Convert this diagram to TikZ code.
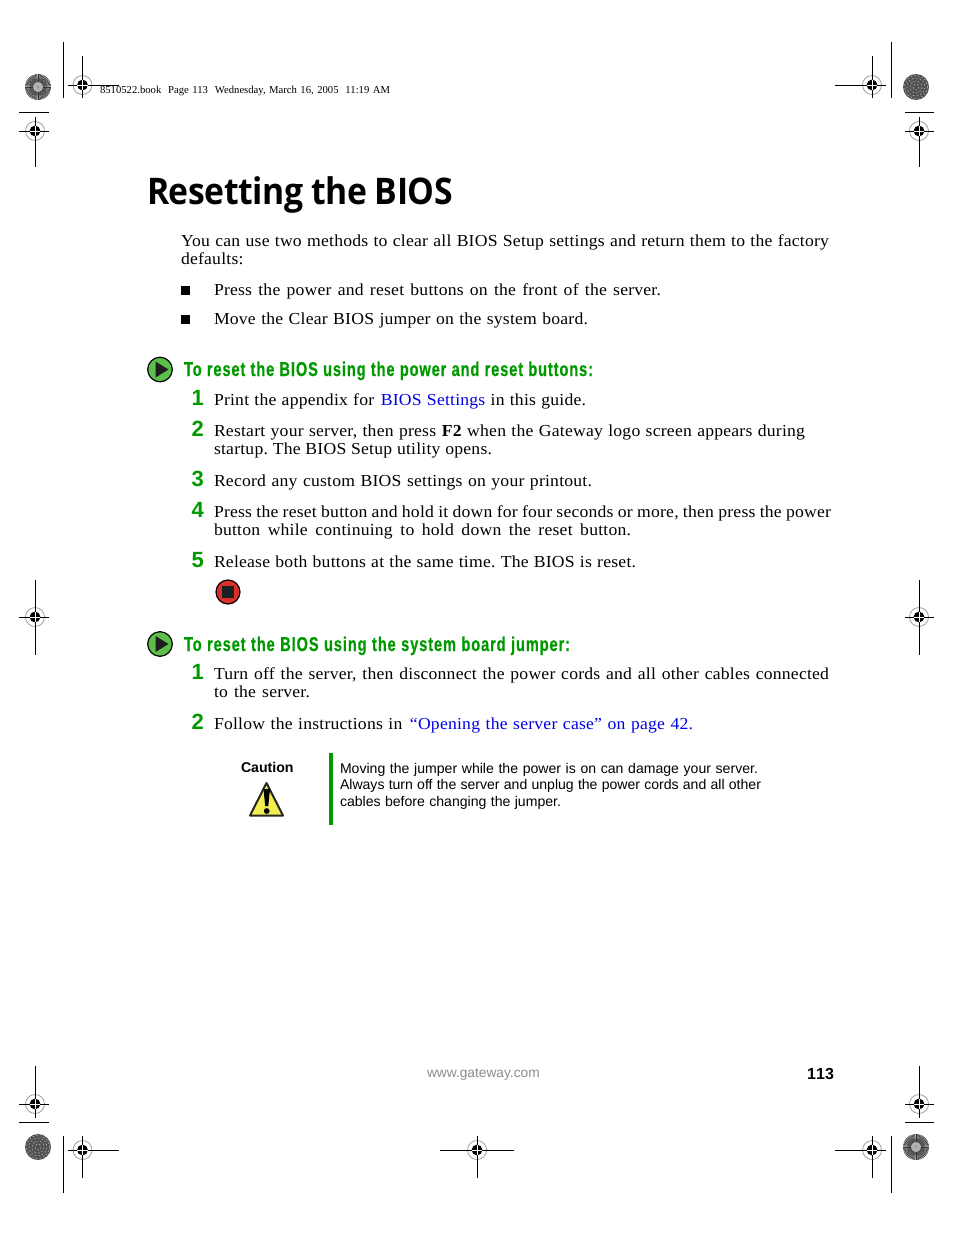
\documentclass[tikz,border=0pt]{standalone}
\usepackage{fontspec}
\setmainfont{Liberation Serif}
\newfontfamily\bodyf[FakeStretch=1.05,LetterSpace=1.3]{Liberation Serif}
\newfontfamily\headf[FakeStretch=0.92,LetterSpace=-1]{Open Sans}
\newfontfamily\subf[FakeStretch=0.73,LetterSpace=4.5,BoldFeatures={FakeBold=0.5}]{Liberation Sans}
\newfontfamily\arial{Liberation Sans}
\definecolor{gwgreen}{HTML}{009A00}
\definecolor{lgreen}{HTML}{5CBF4A}
\definecolor{gwblue}{HTML}{0000E6}
\definecolor{stopred}{HTML}{D8302A}
\definecolor{warny}{HTML}{F2EE4E}
\newlength\pxu \setlength\pxu{0.75pt}
\frenchspacing
\newcommand\lw[2]{\makebox[#1\pxu][s]{#2}}
\newcommand\lk[1]{\textcolor{gwblue}{#1}}
\tikzset{
 x=0.75pt,y=-0.75pt,
 mark line/.style={draw=black,line width=0.75pt},
 txt/.style={anchor=base west,inner sep=0pt,outer sep=0pt},
 body/.style={txt,text=black,font=\bodyf\frenchspacing\fontsize{12.6pt}{14pt}\selectfont},
 subhead/.style={txt,text=gwgreen,font=\subf\bfseries\fontsize{15pt}{17pt}\selectfont},
 num/.style={txt,text=gwgreen,font=\arial\bfseries\fontsize{16.5pt}{18pt}\selectfont},
 note/.style={txt,text=black,font=\arial\frenchspacing\fontsize{10.55pt}{12pt}\selectfont},
}
% centre x,y ; left,right,top,bottom extents
\newcommand\regmark[6]{%
 \draw[gray!75,line width=0.6pt] (#1,#2) circle[radius=9.5];
 \fill[black] (#1,#2) circle[radius=5.4];
 \draw[mark line] (#3,#2) -- (#4,#2) (#1,#5) -- (#1,#6);
 \draw[white,line width=0.5pt] (#1-5.4,#2) -- (#1+5.4,#2) (#1,#2-5.4) -- (#1,#2+5.4);
}
\newcommand\sunburst[2]{%
 \fill[gray!60] (#1,#2) circle[radius=13];
 \foreach \a in {0,6,...,354}{\draw[black!80,line width=0.38pt] (#1,#2) ++(\a:5) -- ++(\a:8);}
 \fill[black!70] (#1,#2) circle[radius=0.7];
}
\newcommand\darkdisc[2]{%
 \fill[black!68] (#1,#2) circle[radius=13];
 \foreach \r/\o in {3/0,6/11,9/5,11.5/17}{\draw[gray!55,line width=0.4pt,dash pattern=on 1.2pt off 1.6pt,dash phase=\o pt] (#1,#2) circle[radius=\r];}
}
\newcommand\playicon[2]{%
 \draw[black,line width=0.9pt,fill=lgreen] (#1,#2) circle[radius=12.3];
 \fill[black!88] (#1-4.5,#2-8) -- (#1+8.5,#2) -- (#1-4.5,#2+8) -- cycle;
}
\begin{document}
\begin{tikzpicture}
\useasboundingbox (0,0) rectangle (954,1235);
\fill[white] (0,0) rectangle (954,1235);
% printer's marks
\sunburst{38}{87}\darkdisc{916}{87}\darkdisc{38}{1147}\sunburst{916}{1147}
\regmark{82.5}{85}{68}{119}{56}{98}
\regmark{872}{85}{835}{886}{56}{98}
\regmark{35}{131}{19}{49}{117}{167}
\regmark{919}{131}{905}{934}{117}{167}
\regmark{35}{617}{19}{49}{580}{655}
\regmark{919}{617}{905}{934}{580}{655}
\regmark{35}{1104}{19}{49}{1066}{1118}
\regmark{919}{1104}{905}{934}{1066}{1118}
\regmark{82.5}{1150}{68}{119}{1136}{1178}
\regmark{872}{1150}{835}{886}{1136}{1178}
\regmark{477}{1150}{440}{514}{1136}{1178}
\draw[mark line] (63,42) -- (63,98) (891,42) -- (891,98) (63,1136) -- (63,1193) (891,1136) -- (891,1193)
 (19,112) -- (49,112) (905,112) -- (934,112) (19,1122) -- (49,1122) (905,1122) -- (934,1122);
\node[txt,font=\fontsize{8pt}{9pt}\selectfont] (hdr) at (100,93) {\lw{290}{8510522.book\ \ Page 113\ \ Wednesday, March 16, 2005\ \ 11:19 AM}};
% title
\node[txt,font=\headf\bfseries\fontsize{27.5pt}{30pt}\selectfont] (title) at (147,204) {\lw{306}{Resetting the BIOS}};
% intro
\node[body] (i1) at (181,246) {\lw{648}{You can use two methods to clear all BIOS Setup settings and return them to the factory}};
\node[body] (i2) at (181,264) {\lw{61}{defaults:}};
\fill[black] (181,286) rectangle (189.5,295);
\fill[black] (181,315) rectangle (189.5,324);
\node[body] (b1) at (214,295) {\lw{447}{Press the power and reset buttons on the front of the server.}};
\node[body] (b2) at (214,324) {\lw{374}{Move the Clear BIOS jumper on the system board.}};
% procedure 1
\playicon{160}{369.5}
\node[subhead] (s1) at (184,376) {\lw{409}{To reset the BIOS using the power and reset buttons:}};
\node[num] (n1) at (191.5,405) {1};
\node[body] (p1) at (214,405) {\lw{372}{Print the appendix for\hspace{1pt} \lk{BIOS Settings} in this guide.}};
\node[num] (n2) at (191.5,436) {2};
\node[body] (p2) at (214,436) {\lw{591}{Restart your server, then press \textbf{F2} when the Gateway logo screen appears during}};
\node[body] (p2b) at (214,454) {\lw{278}{startup. The BIOS Setup utility opens.}};
\node[num] (n3) at (191.5,486) {3};
\node[body] (p3) at (214,486) {\lw{378}{Record any custom BIOS settings on your printout.}};
\node[num] (n4) at (191.5,517) {4};
\node[body] (p4) at (214,517) {\lw{617}{Press the reset button and hold it down for four seconds or more, then press the power}};
\node[body] (p4b) at (214,535) {\lw{417}{button while continuing to hold down the reset button.}};
\node[num] (n5) at (191.5,567) {5};
\node[body] (p5) at (214,567) {\lw{422}{Release both buttons at the same time. The BIOS is reset.}};
\draw[black,line width=0.9pt,fill=stopred] (228,592) circle[radius=12];
\fill[black!88] (222,586) rectangle (234,598);
% procedure 2
\playicon{160}{644}
\node[subhead] (s2) at (184,651) {\lw{386}{To reset the BIOS using the system board jumper:}};
\node[num] (m1) at (191.5,679) {1};
\node[body] (q1) at (214,679) {\lw{615}{Turn off the server, then disconnect the power cords and all other cables connected}};
\node[body] (q1b) at (214,697) {\lw{96}{to the server.}};
\node[num] (m2) at (191.5,729) {2};
\node[body] (q2) at (214,729) {\lw{479}{Follow the instructions in\hspace{1.5pt} \lk{“Opening the server case” on page 42.}}};
% caution
\node[txt,font=\arial\bfseries\fontsize{10.6pt}{12pt}\selectfont] (cau) at (241,772) {Caution};
\draw[black!85,line width=1.5pt,line join=round,fill=warny] (266.5,783) -- (283,815.5) -- (250,815.5) -- cycle;
\fill[black] (263.5,789) -- (270,789) -- (268.3,806) -- (265.2,806) -- cycle;
\fill[black] (266.7,811) circle[radius=2.9];
\fill[gwgreen] (329,753) rectangle (333,825);
\node[note] (c1) at (340,773) {\lw{418}{Moving the jumper while the power is on can damage your server.}};
\node[note] (c2) at (340,789) {\lw{421}{Always turn off the server and unplug the power cords and all other}};
\node[note] (c3) at (340,806) {\lw{221}{cables before changing the jumper.}};
% footer
\node[txt,text=black!45,font=\arial\fontsize{10.3pt}{12pt}\selectfont] (web) at (427,1077) {\lw{114}{www.gateway.com}};
\node[txt,font=\arial\bfseries\fontsize{12pt}{14pt}\selectfont] (pg) at (807,1079) {\lw{27}{1\hfill 1\hfill 3}};
\end{tikzpicture}
\end{document}
